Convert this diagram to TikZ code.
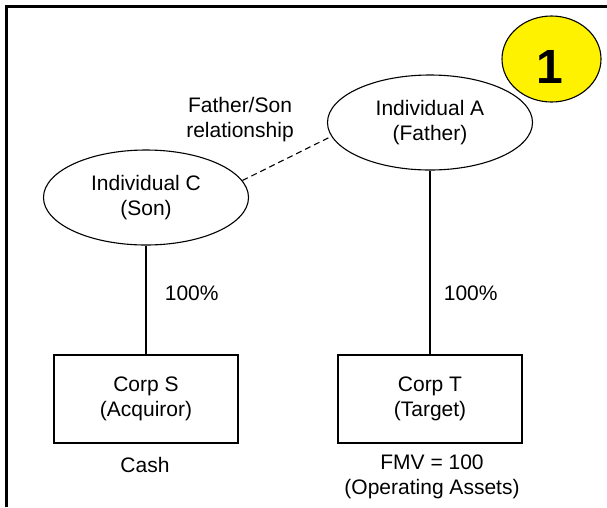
\documentclass[tikz,border=0pt]{standalone}
\usepackage{fontspec}
\setmainfont{Liberation Sans}
\usetikzlibrary{shapes.geometric}
\tikzset{person/.style={draw,ellipse,line width=1.1pt,minimum width=205pt,minimum height=95pt,inner sep=0pt,align=center}}
\tikzset{corp/.style={draw,rectangle,line width=1.1pt,minimum width=184pt,minimum height=88pt,inner sep=0pt,align=center}}
\tikzset{numoval/.style={draw,ellipse,line width=1.1pt,fill=yellow,minimum width=99pt,minimum height=86pt,inner sep=0pt}}
\tikzset{own/.style={line width=1.1pt}}
\tikzset{rel/.style={line width=1.1pt,dash pattern=on 6pt off 4pt}}

\begin{document}
\begin{tikzpicture}[x=10pt,y=-10pt,font=\fontsize{21}{25}\selectfont]
  \useasboundingbox (0,0) rectangle (60.7,50.7);
  \draw[line width=2.6pt] (0.65,50.7) -- (0.65,0.65) -- (60.7,0.65);
  \node[person] (C) at (14.6,19.75) {Individual C\\(Son)};
  \node[person] (A) at (43,12.25) {Individual A\\(Father)};
  \node[corp] (S) at (14.6,39.9) {Corp S\\(Acquiror)};
  \node[corp] (T) at (43,39.9) {Corp T\\(Target)};
  \node[numoval] (num) at (55.15,5.9) {};
  \node[font=\bfseries\fontsize{48}{48}\selectfont] (one) at (55,6.65) {1};
  \node[align=center] (rel) at (24,11.95) {Father/Son\\relationship};
  \node (cash) at (14.5,46.5) {Cash};
  \node[align=center] (fmv) at (43.2,47.7) {FMV = 100\\(Operating Assets)};
  \draw[rel] (C.10) -- (A.188);
  \draw[own] (C) -- node[pos=.436,anchor=west,xshift=15pt] (pctS) {100\%} (S);
  \draw[own] (A) -- node[pos=.665,anchor=west,xshift=10pt] (pctT) {100\%} (T);
\end{tikzpicture}
\end{document}
